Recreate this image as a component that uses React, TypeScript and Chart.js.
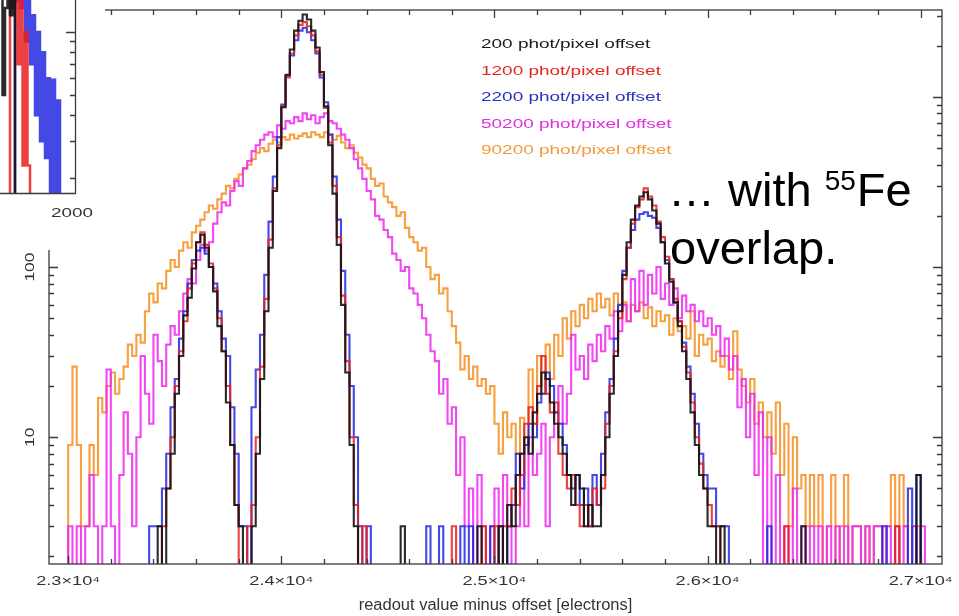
import React, { useEffect, useRef } from 'react';
import { Chart, registerables } from 'chart.js';

Chart.register(...registerables);

// ---- main histogram: bin centres (electrons) ----
const BIN_START = 22930;
const BIN_WIDTH = 20;

// counts per bin (values below the axis minimum fall off the bottom)
const counts200 = [
  1, 1, 1, 1, 1, 1, 1, 1, 1, 1,
  1, 1, 1, 1, 1, 1, 1, 1, 1, 1,
  1, 1, 1, 1, 1, 3, 1, 5, 8, 18,
  30, 52, 66, 98, 140, 155, 130, 100, 72, 45,
  32, 16, 9, 4, 3, 1, 1, 3, 8, 22,
  55, 130, 280, 500, 870, 1350, 1900, 2450, 2800, 3050,
  2850, 2450, 1950, 1400, 880, 520, 270, 135, 60, 24,
  9, 3, 1, 1, 1, 1, 1, 1, 1, 1,
  1, 1, 3, 1, 1, 1, 1, 1, 1, 1,
  1, 1, 1, 1, 1, 1, 1, 1, 1, 1,
  3, 1, 1, 1, 1, 3, 1, 4, 3, 6,
  8, 10, 8, 14, 18, 24, 22, 16, 12, 10,
  8, 6, 4, 6, 5, 3, 4, 3, 3, 6,
  10, 18, 30, 55, 90, 140, 190, 230, 260, 275,
  250, 215, 180, 140, 105, 82, 62, 45, 32, 22,
  14, 9, 6, 5, 3, 3, 1, 3, 1, 1,
  1, 1, 1, 1, 1, 1, 1, 1, 1, 1,
  1, 1, 1, 1, 1, 1, 3, 1, 1, 1,
  1, 1, 1, 1, 1, 1, 1, 1, 1, 1,
  1, 1, 1, 1, 1, 1, 1, 1, 1, 1,
  1, 1, 1, 6, 1, 1, 1, 1, 1,
];

const counts1200 = [
  1, 1, 1, 1, 1, 1, 1, 1, 1, 1,
  1, 1, 1, 1, 1, 1, 1, 1, 1, 1,
  1, 1, 1, 1, 1, 1, 3, 5, 10, 20,
  32, 48, 75, 105, 140, 160, 135, 105, 75, 50,
  32, 20, 9, 4, 1, 1, 3, 4, 10, 26,
  65, 145, 290, 520, 880, 1300, 1800, 2300, 2650, 2750,
  2600, 2300, 1850, 1350, 860, 540, 300, 150, 68, 28,
  10, 4, 1, 3, 1, 1, 1, 1, 1, 1,
  1, 1, 1, 1, 1, 1, 1, 1, 1, 1,
  1, 1, 1, 1, 3, 1, 1, 1, 1, 1,
  1, 3, 1, 1, 3, 1, 3, 3, 5, 4,
  6, 12, 15, 12, 20, 30, 18, 14, 16, 8,
  6, 5, 6, 4, 3, 4, 3, 5, 4, 5,
  12, 20, 32, 50, 85, 130, 180, 225, 250, 290,
  260, 230, 185, 150, 115, 85, 65, 48, 34, 24,
  16, 10, 7, 5, 4, 3, 3, 1, 1, 1,
  1, 1, 1, 1, 1, 1, 1, 1, 1, 1,
  1, 1, 3, 1, 1, 1, 1, 1, 1, 1,
  1, 1, 1, 1, 1, 1, 1, 1, 1, 1,
  1, 1, 1, 1, 1, 1, 1, 1, 3, 1,
  1, 1, 1, 1, 1, 1, 1, 1, 1,
];

const counts2200 = [
  1, 1, 1, 1, 1, 1, 1, 1, 1, 1,
  1, 1, 1, 1, 1, 1, 1, 1, 1, 1,
  1, 1, 1, 3, 3, 3, 5, 8, 15, 22,
  38, 55, 80, 110, 125, 130, 120, 100, 80, 55,
  38, 30, 15, 8, 3, 3, 1, 15, 25, 40,
  90, 185, 340, 580, 900, 1330, 1750, 2150, 2450, 2550,
  2400, 2150, 1800, 1300, 930, 600, 340, 190, 95, 40,
  20, 10, 3, 1, 3, 1, 1, 1, 1, 1,
  1, 1, 1, 1, 1, 1, 1, 1, 3, 1,
  1, 3, 1, 1, 1, 1, 3, 1, 3, 1,
  1, 1, 1, 3, 1, 3, 1, 3, 4, 8,
  5, 9, 12, 10, 16, 18, 24, 20, 14, 12,
  9, 6, 5, 6, 4, 5, 3, 6, 4, 8,
  14, 22, 38, 60, 95, 130, 165, 190, 205, 210,
  200, 195, 170, 140, 110, 85, 62, 48, 36, 26,
  18, 12, 8, 6, 5, 5, 3, 3, 3, 1,
  1, 1, 1, 1, 1, 1, 1, 1, 3, 1,
  1, 1, 1, 1, 1, 1, 1, 1, 1, 1,
  1, 1, 1, 1, 1, 1, 1, 1, 1, 1,
  1, 1, 1, 1, 1, 3, 1, 1, 1, 1,
  1, 5, 1, 6, 1, 1, 1, 1, 1,
];

const counts50200 = [
  1, 1, 1, 1, 3, 1, 3, 1, 3, 6,
  3, 1, 3, 25, 3, 1, 6, 14, 8, 3,
  10, 30, 18, 12, 40, 28, 20, 35, 45, 40,
  55, 70, 85, 80, 110, 135, 125, 140, 180, 210,
  240, 230, 280, 320, 300, 380, 420, 480, 520, 560,
  600, 620, 580, 680, 650, 720, 700, 760, 720, 800,
  740, 780, 700, 760, 800, 720, 700, 650, 600, 560,
  500, 430, 380, 330, 280, 250, 200, 190, 165, 150,
  120, 110, 95, 100, 75, 70, 60, 50, 40, 32,
  28, 18, 22, 12, 15, 6, 10, 3, 5, 1,
  6, 3, 1, 3, 5, 1, 6, 3, 1, 3,
  8, 3, 10, 6, 8, 12, 3, 10, 14, 20,
  12, 18, 40, 25, 30, 22, 35, 28, 40, 32,
  45, 38, 55, 42, 60, 48, 85, 55, 95, 60,
  90, 70, 100, 65, 80, 60, 75, 50, 68, 55,
  60, 48, 55, 45, 50, 40, 45, 30, 38, 25,
  30, 15, 22, 10, 18, 6, 14, 1, 10, 1,
  6, 1, 3, 1, 5, 1, 3, 1, 3, 1,
  3, 1, 3, 1, 3, 1, 3, 1, 3, 3,
  1, 3, 1, 3, 3, 1, 3, 1, 3, 1,
  3, 1, 3, 1, 3, 1, 1, 1, 1,
];

const counts90200 = [
  1, 1, 1, 1, 9, 26, 9, 3, 3, 9,
  6, 17, 14, 20, 24, 18, 22, 26, 35, 30,
  40, 36, 55, 70, 62, 80, 75, 95, 110, 100,
  125, 140, 130, 160, 175, 190, 210, 230, 220, 250,
  270, 300, 290, 330, 350, 380, 400, 430, 470, 500,
  480, 530, 560, 540, 580, 560, 600, 570, 590, 610,
  580, 620, 600, 580, 620, 600, 560, 590, 540, 500,
  520, 470, 440, 400, 380, 330, 300, 310, 260, 240,
  225, 200, 210, 170, 150, 140, 125, 130, 100, 85,
  90, 70, 75, 55, 45, 36, 25, 30, 22, 26,
  20, 22, 18, 20, 12, 8, 14, 10, 12, 8,
  13, 9, 25, 12, 30, 18, 35, 22, 40, 30,
  50, 38, 55, 45, 60, 50, 65, 55, 70, 58,
  65, 52, 70, 55, 62, 48, 60, 55, 62, 50,
  58, 45, 55, 48, 52, 40, 50, 42, 45, 38,
  55, 30, 40, 35, 38, 28, 32, 26, 30, 22,
  42, 25, 20, 16, 22, 12, 16, 10, 14, 8,
  16, 6, 12, 3, 10, 5, 6, 3, 6, 3,
  6, 1, 3, 6, 1, 3, 6, 1, 3, 3,
  1, 3, 1, 3, 3, 1, 3, 6, 1, 6,
  3, 1, 3, 3, 1, 1, 1, 1, 1,
];

const SERIES_LABELS = [
  '200 phot/pixel offset',
  '1200 phot/pixel offset',
  '2200 phot/pixel offset',
  '50200 phot/pixel offset',
  '90200 phot/pixel offset',
];
const SERIES_COLORS = [
  'rgba(20,20,20,0.9)',
  'rgba(235,30,30,0.85)',
  'rgba(35,40,225,0.85)',
  'rgba(238,40,238,0.85)',
  'rgba(245,150,45,0.9)',
];
const LEGEND_COLORS = ['#1a1a1a', '#e5261f', '#2a2fc4', '#e02ee0', '#f39a3a'];

const X_MIN = 22910;
const X_MAX = 27100;
const Y_MIN = 1.8;
const Y_MAX = 3240;
const X_TICK_VALUES = [23000, 24000, 25000, 26000, 27000];
const X_TICK_LABELS = ['2.3×10⁴', '2.4×10⁴', '2.5×10⁴', '2.6×10⁴', '2.7×10⁴'];
const Y_TICK_VALUES = [10, 100];
const Y_TICK_LABELS = ['10', '100'];
const X_TITLE = 'readout value minus offset [electrons]';
const NOTE_LINE1 = '… with ';
const NOTE_SUP = '55';
const NOTE_ELEM = 'Fe';
const NOTE_LINE2 = 'overlap.';

// ---- inset (partial view of another histogram) ----
const INSET_BIN_START = 1607;
const INSET_BIN_WIDTH = 14;
const inset200 = [1400, 500, 1300, 1400, 1200, 1400, 100, 100, 100, 100, 100, 100, 100, 100, 100, 100, 100, 100, 100, 100, 100, 100, 100, 100, 100, 100, 100, 100, 100, 100];
const inset1200 = [100, 100, 100, 100, 1400, 1300, 1400, 700, 1400, 230, 1000, 230, 100, 100, 100, 100, 100, 100, 100, 100, 100, 100, 100, 100, 100, 100, 100, 100, 100, 100];
const inset2200 = [100, 100, 100, 100, 100, 100, 1400, 1400, 1300, 1400, 900, 1400, 700, 1200, 400, 1000, 300, 800, 250, 600, 100, 590, 100, 470, 100, 100, 100, 100, 100, 100];
const INSET_TICK_LABEL = '2000';

const FONT = '"Liberation Sans", Arial, Helvetica, sans-serif';

function toPoints(values: number[], start: number, width: number) {
  return values.map((v, i) => ({ x: start + i * width, y: v }));
}

function drawText(
  ctx: CanvasRenderingContext2D,
  text: string,
  x: number,
  y: number,
  size: number,
  color: string,
  stretch: number,
  align: CanvasTextAlign = 'left',
  rotation = 0,
  baseline: CanvasTextBaseline = 'alphabetic'
) {
  ctx.save();
  ctx.translate(x, y);
  if (rotation) ctx.rotate(rotation);
  ctx.scale(stretch, 1);
  ctx.font = `${size}px ${FONT}`;
  ctx.fillStyle = color;
  ctx.textAlign = align;
  ctx.textBaseline = baseline;
  ctx.fillText(text, 0, 0);
  ctx.restore();
}

const mainDecor = {
  id: 'mainDecor',
  afterDraw(chart: any) {
    const { ctx, chartArea: a, scales } = chart;
    const xs = scales.x;
    const ys = scales.y;
    ctx.save();
    ctx.strokeStyle = '#3a3a3a';
    ctx.lineWidth = 1.3;
    ctx.strokeRect(a.left, a.top, a.right - a.left, a.bottom - a.top);
    ctx.beginPath();
    for (let v = 23000; v <= 27000; v += 200) {
      const px = Math.round(xs.getPixelForValue(v)) + 0.5;
      const len = v % 1000 === 0 ? 8 : 5;
      ctx.moveTo(px, a.bottom);
      ctx.lineTo(px, a.bottom - len);
      ctx.moveTo(px, a.top);
      ctx.lineTo(px, a.top + len);
    }
    for (let d = 1; d <= 1000; d *= 10) {
      for (let k = 1; k <= 9; k++) {
        const v = k * d;
        if (v < ys.min || v > ys.max) continue;
        const py = Math.round(ys.getPixelForValue(v)) + 0.5;
        const len = k === 1 ? 9 : 5;
        ctx.moveTo(a.left, py);
        ctx.lineTo(a.left + len, py);
        ctx.moveTo(a.right, py);
        ctx.lineTo(a.right - len, py);
      }
    }
    ctx.stroke();
    ctx.restore();

    X_TICK_VALUES.forEach((v, i) => {
      drawText(ctx, X_TICK_LABELS[i], xs.getPixelForValue(v), a.bottom + 21, 13, '#333', 1.4, 'center');
    });
    Y_TICK_VALUES.forEach((v, i) => {
      drawText(ctx, Y_TICK_LABELS[i], a.left - 18, ys.getPixelForValue(v), 12, '#333', 1.45, 'center', -Math.PI / 2, 'middle');
    });
    drawText(ctx, X_TITLE, (a.left + a.right) / 2, a.bottom + 46, 16, '#333', 1.03, 'center');

    // legend (text only, coloured)
    SERIES_LABELS.forEach((t, i) => {
      drawText(ctx, t, 481, 48 + i * 26.5, 12, LEGEND_COLORS[i], 1.58, 'left');
    });

    // annotation
    ctx.save();
    ctx.font = `47px ${FONT}`;
    const w1 = ctx.measureText(NOTE_LINE1).width;
    ctx.font = `28px ${FONT}`;
    const w2 = ctx.measureText(NOTE_SUP).width;
    ctx.restore();
    drawText(ctx, NOTE_LINE1, 668, 206, 47, '#000', 1, 'left');
    drawText(ctx, NOTE_SUP, 668 + w1, 190, 28, '#000', 1, 'left');
    drawText(ctx, NOTE_ELEM, 668 + w1 + w2 + 1, 206, 47, '#000', 1, 'left');
    drawText(ctx, NOTE_LINE2, 670, 264, 47, '#000', 1, 'left');
  },
};

const insetDecor = {
  id: 'insetDecor',
  afterDraw(chart: any) {
    const { ctx, chartArea: a, scales } = chart;
    const ys = scales.y;
    ctx.save();
    ctx.strokeStyle = '#3a3a3a';
    ctx.lineWidth = 1.3;
    ctx.beginPath();
    ctx.moveTo(a.left, a.bottom + 0.5);
    ctx.lineTo(a.right + 0.5, a.bottom + 0.5);
    ctx.lineTo(a.right + 0.5, a.top);
    for (let d = 100; d <= 1000; d *= 10) {
      for (let k = 1; k <= 9; k++) {
        const v = k * d;
        if (v < ys.min || v > ys.max) continue;
        const py = Math.round(ys.getPixelForValue(v)) + 0.5;
        const len = k === 1 ? 9 : 5;
        ctx.moveTo(a.right, py);
        ctx.lineTo(a.right - len, py);
      }
    }
    ctx.stroke();
    ctx.restore();
    drawText(ctx, INSET_TICK_LABEL, 72, a.bottom + 24, 13, '#333', 1.45, 'center');
  },
};

export default function App() {
  const mainRef = useRef<HTMLCanvasElement>(null);
  const insetRef = useRef<HTMLCanvasElement>(null);

  useEffect(() => {
    document.body.style.margin = '0';
    const allCounts = [counts200, counts1200, counts2200, counts50200, counts90200];
    const main = new Chart(mainRef.current as HTMLCanvasElement, {
      type: 'line',
      data: {
        datasets: allCounts.map((c, i) => ({
          label: SERIES_LABELS[i],
          data: toPoints(c, BIN_START, BIN_WIDTH),
          borderColor: SERIES_COLORS[i],
          backgroundColor: SERIES_COLORS[i],
          borderWidth: 2.1,
          stepped: 'middle' as const,
          pointRadius: 0,
          fill: false,
        })),
      },
      options: {
        animation: false,
        responsive: false,
        maintainAspectRatio: false,
        layout: { padding: { left: 49, right: 17, top: 10, bottom: 52 } },
        scales: {
          x: { type: 'linear', min: X_MIN, max: X_MAX, display: false },
          y: { type: 'logarithmic', min: Y_MIN, max: Y_MAX, display: false },
        },
        plugins: { legend: { display: false }, tooltip: { enabled: false } },
        events: [],
      },
      plugins: [mainDecor],
    } as any);

    const insetSets = [inset200, inset1200, inset2200];
    const inset = new Chart(insetRef.current as HTMLCanvasElement, {
      type: 'line',
      data: {
        datasets: insetSets.map((c, i) => ({
          label: SERIES_LABELS[i],
          data: toPoints(c, INSET_BIN_START, INSET_BIN_WIDTH),
          borderColor: SERIES_COLORS[i],
          borderWidth: 2.5,
          stepped: 'middle' as const,
          pointRadius: 0,
          fill: false,
        })),
      },
      options: {
        animation: false,
        responsive: false,
        maintainAspectRatio: false,
        layout: { padding: { left: 0, right: 30, top: 0, bottom: 57 } },
        scales: {
          x: { type: 'linear', min: 1600, max: 2020, display: false },
          y: { type: 'logarithmic', min: 170, max: 1420, display: false },
        },
        plugins: { legend: { display: false }, tooltip: { enabled: false } },
        events: [],
      },
      plugins: [insetDecor],
    } as any);

    return () => {
      main.destroy();
      inset.destroy();
    };
  }, []);

  return (
    <div style={{ position: 'relative', width: 959, height: 616, background: '#fff', overflow: 'hidden' }}>
      <canvas ref={mainRef} width={959} height={616} style={{ position: 'absolute', left: 0, top: 0 }} />
      <div style={{ position: 'absolute', left: 0, top: 0, width: 105, height: 250, background: '#fff' }}>
        <canvas ref={insetRef} width={105} height={250} />
      </div>
    </div>
  );
}
